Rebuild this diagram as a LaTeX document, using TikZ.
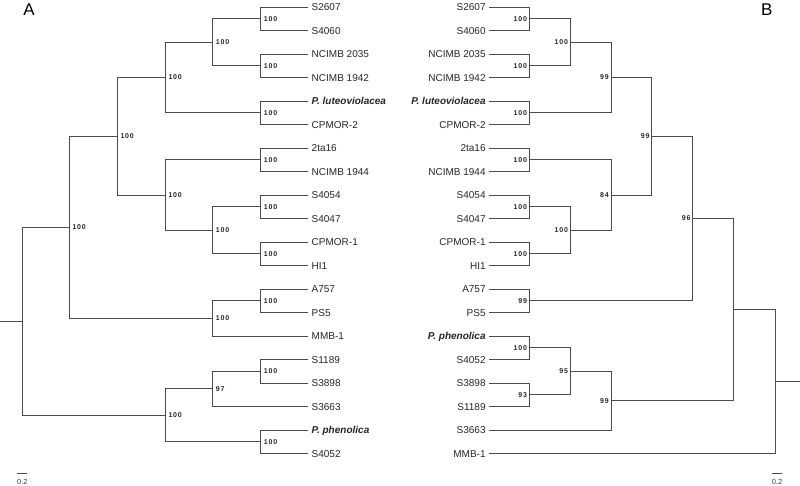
\documentclass[tikz,border=0pt]{standalone}
\usepackage{fontspec}
\setmainfont{Liberation Sans}
\newfontfamily\bootfont[LetterSpace=12]{Liberation Sans}

\begin{document}
\begin{tikzpicture}[
  x=1pt, y=-1pt,
  branch/.style={draw=black!70, line width=0.9pt},
  leafL/.style={anchor=west, inner sep=3.5pt, text height=7.2pt, text depth=0pt, font=\fontsize{10}{12}\selectfont, text=black!85},
  leafR/.style={anchor=east, inner sep=3.5pt, text height=7.2pt, text depth=0pt, font=\fontsize{10}{12}\selectfont, text=black!85},
  bootL/.style={anchor=west, xshift=3pt, inner sep=0pt, text height=5pt, text depth=0pt, font=\bootfont\bfseries\fontsize{7}{8}\selectfont, text=black!85},
  bootR/.style={anchor=east, xshift=-2pt, inner sep=0pt, text height=5pt, text depth=0pt, font=\bootfont\bfseries\fontsize{7}{8}\selectfont, text=black!85},
  panel/.style={inner sep=0pt, text height=12.2pt, text depth=0pt, font=\fontsize{17}{20}\selectfont},
  scalelbl/.style={inner sep=0pt, text height=5.4pt, text depth=0pt, font=\fontsize{7.5}{9}\selectfont, text=black!75}
]
\useasboundingbox (0,0) rectangle (800,486);

% Panel letters
\node[panel] (panelA) at (29,9.5) {A};
\node[panel] (panelB) at (766.7,9.5) {B};

% Tree A: leaves
\node[leafL] (a2607) at (308,7) {S2607};
\node[leafL] (a4060) at (308,30.5) {S4060};
\node[leafL] (a2035) at (308,54) {NCIMB 2035};
\node[leafL] (a1942) at (308,77.5) {NCIMB 1942};
\node[leafL] (alut) at (308,101) {\textbf{\textit{P. luteoviolacea}}};
\node[leafL] (acp2) at (308,124.5) {CPMOR-2};
\node[leafL] (a2ta) at (308,148) {2ta16};
\node[leafL] (a1944) at (308,171.5) {NCIMB 1944};
\node[leafL] (a4054) at (308,195) {S4054};
\node[leafL] (a4047) at (308,218.5) {S4047};
\node[leafL] (acp1) at (308,242) {CPMOR-1};
\node[leafL] (ahi1) at (308,265.5) {HI1};
\node[leafL] (a757) at (308,289) {A757};
\node[leafL] (aps5) at (308,312.5) {PS5};
\node[leafL] (ammb) at (308,336) {MMB-1};
\node[leafL] (a1189) at (308,359.5) {S1189};
\node[leafL] (a3898) at (308,383) {S3898};
\node[leafL] (a3663) at (308,406.5) {S3663};
\node[leafL] (aphe) at (308,430) {\textbf{\textit{P. phenolica}}};
\node[leafL] (a4052) at (308,453.5) {S4052};

% Tree A: internal nodes
\coordinate (ac1) at (260.7,18.75);
\coordinate (ac2) at (260.7,65.75);
\coordinate (ag) at (212.7,42.25);
\coordinate (ac3) at (260.7,112.75);
\coordinate (ae) at (165.3,77.5);
\coordinate (ac4) at (260.7,159.75);
\coordinate (ac5) at (260.7,206.75);
\coordinate (ac6) at (260.7,253.75);
\coordinate (ai) at (212.7,230.25);
\coordinate (af) at (165.3,195);
\coordinate (ac) at (117.3,136.25);
\coordinate (ac7) at (260.7,300.75);
\coordinate (ad) at (212.7,318.4);
\coordinate (aa) at (69.3,227.3);
\coordinate (ac8) at (260.7,371.25);
\coordinate (aj) at (212.7,388.9);
\coordinate (ac9) at (260.7,441.75);
\coordinate (ab) at (165.3,415.3);
\coordinate (aroot) at (22,321.3);
\coordinate (astub) at (0,321.3);

% Tree A: branches
\draw[branch] (ac1) |- (a2607.west) (ac1) |- (a4060.west);
\draw[branch] (ac2) |- (a2035.west) (ac2) |- (a1942.west);
\draw[branch] (ag) |- (ac1) (ag) |- (ac2);
\draw[branch] (ac3) |- (alut.west) (ac3) |- (acp2.west);
\draw[branch] (ae) |- (ag) (ae) |- (ac3);
\draw[branch] (ac4) |- (a2ta.west) (ac4) |- (a1944.west);
\draw[branch] (ac5) |- (a4054.west) (ac5) |- (a4047.west);
\draw[branch] (ac6) |- (acp1.west) (ac6) |- (ahi1.west);
\draw[branch] (ai) |- (ac5) (ai) |- (ac6);
\draw[branch] (af) |- (ac4) (af) |- (ai);
\draw[branch] (ac) |- (ae) (ac) |- (af);
\draw[branch] (ac7) |- (a757.west) (ac7) |- (aps5.west);
\draw[branch] (ad) |- (ac7) (ad) |- (ammb.west);
\draw[branch] (aa) |- (ac) (aa) |- (ad);
\draw[branch] (ac8) |- (a1189.west) (ac8) |- (a3898.west);
\draw[branch] (aj) |- (ac8) (aj) |- (a3663.west);
\draw[branch] (ac9) |- (aphe.west) (ac9) |- (a4052.west);
\draw[branch] (ab) |- (aj) (ab) |- (ac9);
\draw[branch] (aroot) |- (aa) (aroot) |- (ab);
\draw[branch] (astub) -- (aroot);

% Tree A: bootstrap values
\node[bootL] (ac1-bs) at (ac1) {100};
\node[bootL] (ac2-bs) at (ac2) {100};
\node[bootL] (ag-bs) at (ag) {100};
\node[bootL] (ac3-bs) at (ac3) {100};
\node[bootL] (ae-bs) at (ae) {100};
\node[bootL] (ac4-bs) at (ac4) {100};
\node[bootL] (ac5-bs) at (ac5) {100};
\node[bootL] (ac6-bs) at (ac6) {100};
\node[bootL] (ai-bs) at (ai) {100};
\node[bootL] (af-bs) at (af) {100};
\node[bootL] (ac-bs) at (ac) {100};
\node[bootL] (ac7-bs) at (ac7) {100};
\node[bootL] (ad-bs) at (ad) {100};
\node[bootL] (aa-bs) at (aa) {100};
\node[bootL] (ac8-bs) at (ac8) {100};
\node[bootL] (aj-bs) at (aj) {97};
\node[bootL] (ac9-bs) at (ac9) {100};
\node[bootL] (ab-bs) at (ab) {100};

% Tree A: scale bar
\coordinate (asc1) at (16.7,473.3);
\coordinate (asc2) at (27.3,473.3);
\draw[branch, line width=0.8pt] (asc1) -- (asc2);
\node[scalelbl] (asc-lbl) at (22.3,481.8) {0.2};

% Tree B: leaves
\node[leafR] (b2607) at (489.3,7) {S2607};
\node[leafR] (b4060) at (489.3,30.5) {S4060};
\node[leafR] (b2035) at (489.3,54) {NCIMB 2035};
\node[leafR] (b1942) at (489.3,77.5) {NCIMB 1942};
\node[leafR] (blut) at (489.3,101) {\textbf{\textit{P. luteoviolacea}}};
\node[leafR] (bcp2) at (489.3,124.5) {CPMOR-2};
\node[leafR] (b2ta) at (489.3,148) {2ta16};
\node[leafR] (b1944) at (489.3,171.5) {NCIMB 1944};
\node[leafR] (b4054) at (489.3,195) {S4054};
\node[leafR] (b4047) at (489.3,218.5) {S4047};
\node[leafR] (bcp1) at (489.3,242) {CPMOR-1};
\node[leafR] (bhi1) at (489.3,265.5) {HI1};
\node[leafR] (b757) at (489.3,289) {A757};
\node[leafR] (bps5) at (489.3,312.5) {PS5};
\node[leafR] (bphe) at (489.3,336) {\textbf{\textit{P. phenolica}}};
\node[leafR] (b4052) at (489.3,359.5) {S4052};
\node[leafR] (b3898) at (489.3,383) {S3898};
\node[leafR] (b1189) at (489.3,406.5) {S1189};
\node[leafR] (b3663) at (489.3,430) {S3663};
\node[leafR] (bmmb) at (489.3,453.5) {MMB-1};

% Tree B: internal nodes
\coordinate (bc1) at (529.3,18.75);
\coordinate (bc2) at (529.3,65.75);
\coordinate (bn1) at (570.3,42.25);
\coordinate (bc3) at (529.3,112.75);
\coordinate (bn2) at (611,77.5);
\coordinate (bc4) at (529.3,159.75);
\coordinate (bc5) at (529.3,206.75);
\coordinate (bc6) at (529.3,253.75);
\coordinate (bn3) at (570.3,230.25);
\coordinate (bn4) at (611,195);
\coordinate (bn5) at (651.7,136.25);
\coordinate (bc7) at (529.3,300.75);
\coordinate (bn6) at (692.7,218.5);
\coordinate (bc8) at (529.3,347.75);
\coordinate (bc9) at (529.3,394.75);
\coordinate (bn7) at (570.3,371.25);
\coordinate (bn8) at (611,400.6);
\coordinate (bn9) at (733.3,309.6);
\coordinate (broot) at (775,381.5);
\coordinate (bstub) at (800,381.5);

% Tree B: branches
\draw[branch] (bc1) |- (b2607.east) (bc1) |- (b4060.east);
\draw[branch] (bc2) |- (b2035.east) (bc2) |- (b1942.east);
\draw[branch] (bn1) |- (bc1) (bn1) |- (bc2);
\draw[branch] (bc3) |- (blut.east) (bc3) |- (bcp2.east);
\draw[branch] (bn2) |- (bn1) (bn2) |- (bc3);
\draw[branch] (bc4) |- (b2ta.east) (bc4) |- (b1944.east);
\draw[branch] (bc5) |- (b4054.east) (bc5) |- (b4047.east);
\draw[branch] (bc6) |- (bcp1.east) (bc6) |- (bhi1.east);
\draw[branch] (bn3) |- (bc5) (bn3) |- (bc6);
\draw[branch] (bn4) |- (bc4) (bn4) |- (bn3);
\draw[branch] (bn5) |- (bn2) (bn5) |- (bn4);
\draw[branch] (bc7) |- (b757.east) (bc7) |- (bps5.east);
\draw[branch] (bn6) |- (bn5) (bn6) |- (bc7);
\draw[branch] (bc8) |- (bphe.east) (bc8) |- (b4052.east);
\draw[branch] (bc9) |- (b3898.east) (bc9) |- (b1189.east);
\draw[branch] (bn7) |- (bc8) (bn7) |- (bc9);
\draw[branch] (bn8) |- (bn7) (bn8) |- (b3663.east);
\draw[branch] (bn9) |- (bn6) (bn9) |- (bn8);
\draw[branch] (broot) |- (bn9) (broot) |- (bmmb.east);
\draw[branch] (bstub) -- (broot);

% Tree B: bootstrap values
\node[bootR] (bc1-bs) at (bc1) {100};
\node[bootR] (bc2-bs) at (bc2) {100};
\node[bootR] (bn1-bs) at (bn1) {100};
\node[bootR] (bc3-bs) at (bc3) {100};
\node[bootR] (bn2-bs) at (bn2) {99};
\node[bootR] (bc4-bs) at (bc4) {100};
\node[bootR] (bc5-bs) at (bc5) {100};
\node[bootR] (bc6-bs) at (bc6) {100};
\node[bootR] (bn3-bs) at (bn3) {100};
\node[bootR] (bn4-bs) at (bn4) {84};
\node[bootR] (bn5-bs) at (bn5) {99};
\node[bootR] (bc7-bs) at (bc7) {99};
\node[bootR] (bn6-bs) at (bn6) {96};
\node[bootR] (bc8-bs) at (bc8) {100};
\node[bootR] (bc9-bs) at (bc9) {93};
\node[bootR] (bn7-bs) at (bn7) {95};
\node[bootR] (bn8-bs) at (bn8) {99};

% Tree B: scale bar
\coordinate (bsc1) at (772.3,473.3);
\coordinate (bsc2) at (781.7,473.3);
\draw[branch, line width=0.8pt] (bsc1) -- (bsc2);
\node[scalelbl] (bsc-lbl) at (777,481.8) {0.2};

\end{tikzpicture}
\end{document}
